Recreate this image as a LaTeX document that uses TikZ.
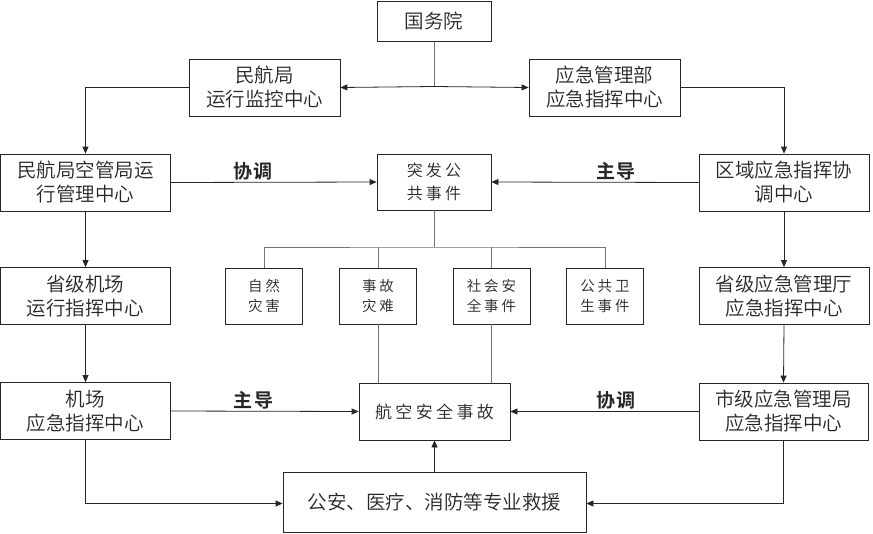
\documentclass[tikz,border=0pt]{standalone}
\usepackage{fontspec}
\newfontfamily\cjk{Noto Sans CJK SC DemiLight}
\newfontfamily\cjkb[LetterSpace=6]{Noto Sans CJK SC Bold}
\newfontfamily\cjksp[LetterSpace=20]{Noto Sans CJK SC DemiLight}
\usetikzlibrary{arrows.meta}
\begin{document}
\begin{tikzpicture}[x=1pt,y=-1pt,
  box/.style={draw=black!85,line width=0.8pt,inner sep=0pt,align=center,
    font=\cjk\fontsize{19.5}{24}\selectfont,text=black!85},
  bigbox/.style={box,minimum width=170pt,minimum height=57pt},
  midbox/.style={box,minimum width=151pt,minimum height=57pt},
  evbox/.style={box,minimum width=77pt,minimum height=56pt,
    font=\cjksp\fontsize{14.5}{19.5}\selectfont},
  conn/.style={line width=0.8pt,draw=black!85},
  arr/.style={conn,-{Triangle[length=7pt,width=6pt]}},
  gline/.style={line width=0.8pt,draw=black!55},
  lab/.style={font=\cjkb\fontsize{19}{21}\selectfont,text=black!85,inner sep=0pt}
]
\useasboundingbox (0,0) rectangle (873,533);
\fill[white] (0,0) rectangle (873,533);

\node[box,minimum width=114pt,minimum height=40pt] (gwy) at (434,21) {国务院};
\node[midbox] (mhj) at (264.5,87.5) {民航局\\运行监控中心};
\node[midbox] (yjb) at (604.5,87.5) {应急管理部\\应急指挥中心};

\node[bigbox] (kgj) at (85.5,182.5) {民航局空管局运\\行管理中心};
\node[box,minimum width=114pt,minimum height=56pt,font=\cjksp\fontsize{16}{23}\selectfont] (tf) at (434,182) {突发公\\共事件};
\node[bigbox] (qy) at (784,182.5) {区域应急指挥协\\调中心};

\node[evbox] (zr) at (264,296) {自然\\灾害};
\node[evbox] (sg) at (378,296) {事故\\灾难};
\node[evbox] (sh) at (491.5,296) {社会安\\全事件};
\node[evbox] (gw) at (605,296) {公共卫\\生事件};

\node[bigbox] (sjc) at (85.5,296) {省级机场\\运行指挥中心};
\node[bigbox] (sjt) at (784,296) {省级应急管理厅\\应急指挥中心};

\node[bigbox] (jc) at (85.5,411) {机场\\应急指挥中心};
\node[midbox,font=\cjksp\fontsize{17}{22}\selectfont] (hk) at (434.5,411.5) {航空安全事故};
\node[bigbox,minimum width=169pt] (sjj) at (783.5,411.5) {市级应急管理局\\应急指挥中心};

\node[box,minimum width=303pt,minimum height=60pt] (ga) at (434.5,502) {公安、医疗、消防等专业救援};

% top
\coordinate (j0) at (434,86.5);
\draw[gline] (gwy.south) -- (j0);
\draw[arr] (j0) -- (mhj.east);
\draw[arr] (j0) -- (yjb.west);
\draw[arr] (mhj.west) -| (kgj.north);
\draw[arr] (yjb.east) -| (qy.north);

% middle row
\draw[arr] (kgj.east) -- node[lab,pos=0.4,yshift=11pt]{协调} (tf.west);
\draw[arr] (qy.west) -- node[lab,pos=0.4,yshift=11pt]{主导} (tf.east);

% tree
\coordinate (t0) at (434,247);
\draw[gline] (tf.south) -- (t0);
\draw[gline] (zr.north) |- (t0) -| (gw.north);
\draw[gline] (sg.north) -- (sg.north |- t0);
\draw[gline] (sh.north) -- (sh.north |- t0);
\draw[gline] (sg.south) -- (sg.south |- hk.north);
\draw[gline] (sh.south) -- (sh.south |- hk.north);

% vertical chains
\draw[arr] (kgj.south) -- (sjc.north);
\draw[arr] (sjc.south) -- (jc.north);
\draw[arr] (qy.south) -- (sjt.north);
\draw[arr] (sjt.south) -- (sjj.north);

% bottom row
\draw[arr] (jc.east) -- node[lab,pos=0.44,yshift=11pt]{主导} (hk.west);
\draw[arr] (sjj.west) -- node[lab,pos=0.44,yshift=11pt]{协调} (hk.east);
\draw[arr] (ga.north) -- (hk.south);
\draw[arr] (jc.south) |- ([yshift=-1.5pt]ga.west);
\draw[arr] (sjj.south) |- ([yshift=-1.5pt]ga.east);
\end{tikzpicture}
\end{document}
